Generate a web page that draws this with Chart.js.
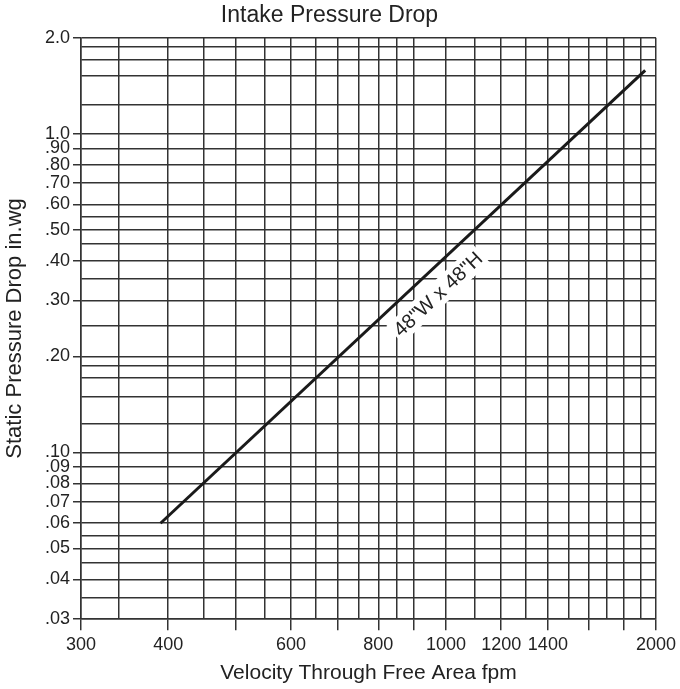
<!DOCTYPE html>
<html>
<head>
<meta charset="utf-8">
<script src="https://cdn.jsdelivr.net/npm/chart.js@4.4.1/dist/chart.umd.min.js"></script>
<style>
  body { margin: 0; background: #fff; }
  #wrap { width: 680px; height: 689px; }
</style>
</head>
<body>
<div id="wrap"><canvas id="pressureChart"></canvas></div>
<script>
// velocity (fpm) and pressure drop (in.wg)
const velocity = [390, 1930];
const pressureDrop = [0.06, 1.58];
const curveLabel = '48"W x 48"H';
const curveLabelAt = 927; // fpm, where the label sits along the curve

// grid of the log-log paper
const xGrid = [300, 340, 400, 450, 500, 550, 600, 650, 700, 750, 800, 850, 900,
    1000, 1100, 1200, 1300, 1400, 1500, 1600, 1700, 1800, 1900, 2000];
const xTickMarks = [300, 400, 500, 600, 700, 800, 900, 1000, 1200, 1400, 1600, 1800, 2000];
const xTickLabels = ['300', '400', '600', '800', '1000', '1200', '1400', '2000'];

const yGrid = [0.03, 0.035, 0.04, 0.045, 0.05, 0.055, 0.06, 0.07, 0.08, 0.09, 0.10,
    0.123, 0.15, 0.172, 0.187, 0.20, 0.25, 0.30, 0.35, 0.40, 0.45, 0.50, 0.55,
    0.60, 0.70, 0.80, 0.90, 1.0, 1.23, 1.52, 1.71, 1.87, 2.0];
const yTickLabels = ['.03', '.04', '.05', '.06', '.07', '.08', '.09', '.10', '.20', '.30',
    '.40', '.50', '.60', '.70', '.80', '.90', '1.0', '2.0'];

const same = (a, b) => Math.abs(a - b) < 1e-9;
const xLabelFor = v => xTickLabels.find(l => same(Number(l), v)) || '';
const yLabelFor = v => yTickLabels.find(l => same(Number(l), v)) || '';

const gridColor = '#333';
const inkColor = '#222';

Chart.defaults.font.family = '"Liberation Sans", Arial, sans-serif';
Chart.defaults.color = inkColor;

// label written along the curve, on a white patch
const curveLabelPlugin = {
    id: 'curveLabel',
    afterDatasetsDraw(chart) {
        const pts = chart.getDatasetMeta(0).data;
        const p0 = pts[0], p1 = pts[pts.length - 1];
        const px = chart.scales.x.getPixelForValue(curveLabelAt);
        const t = (px - p0.x) / (p1.x - p0.x);
        const py = p0.y + t * (p1.y - p0.y);
        const ang = Math.atan2(p1.y - p0.y, p1.x - p0.x);
        const ctx = chart.ctx;
        ctx.save();
        ctx.translate(px, py);
        ctx.rotate(ang);
        ctx.translate(0, 22);
        ctx.font = '20px "Liberation Sans", Arial, sans-serif';
        const w = ctx.measureText(curveLabel).width;
        ctx.fillStyle = '#fff';
        ctx.fillRect(-w / 2 - 3, -12, w + 6, 24);
        ctx.fillStyle = inkColor;
        ctx.textAlign = 'center';
        ctx.textBaseline = 'middle';
        ctx.fillText(curveLabel, 0, 1);
        ctx.restore();
    }
};

const ctx = document.getElementById('pressureChart').getContext('2d');
const pressureChart = new Chart(ctx, {
    type: 'line',
    data: {
        datasets: [{
            label: curveLabel,
            data: velocity.map((v, i) => ({ x: v, y: pressureDrop[i] })),
            borderColor: '#1a1a1a',
            borderWidth: 3,
            pointRadius: 0,
            fill: false,
            tension: 0
        }]
    },
    options: {
        responsive: true,
        maintainAspectRatio: false,
        animation: false,
        layout: { padding: { left: 0, right: 21, top: 0, bottom: 3 } },
        plugins: {
            legend: { display: false },
            tooltip: { enabled: false },
            title: {
                display: true,
                text: 'Intake Pressure Drop',
                color: inkColor,
                font: { size: 23, weight: 'normal' },
                padding: { top: 1.5, bottom: 8.6 }
            }
        },
        scales: {
            x: {
                type: 'logarithmic',
                min: 300,
                max: 2000,
                afterBuildTicks: axis => { axis.ticks = xGrid.map(v => ({ value: v })); },
                ticks: {
                    autoSkip: false,
                    maxRotation: 0,
                    padding: 4,
                    font: { size: 18 },
                    color: inkColor,
                    callback: v => xLabelFor(v)
                },
                grid: {
                    color: gridColor,
                    lineWidth: 1.5,
                    tickLength: 11,
                    tickColor: c => xTickMarks.some(v => same(v, c.tick.value)) ? gridColor : 'rgba(0,0,0,0)'
                },
                border: { color: gridColor, width: 1.5 },
                title: {
                    display: true,
                    text: 'Velocity Through Free Area fpm',
                    color: inkColor,
                    font: { size: 21 },
                    padding: { top: 1, bottom: 0 }
                }
            },
            y: {
                type: 'logarithmic',
                min: 0.03,
                max: 2.0,
                afterBuildTicks: axis => { axis.ticks = yGrid.map(v => ({ value: v })); },
                ticks: {
                    autoSkip: false,
                    padding: 3,
                    font: { size: 18 },
                    color: inkColor,
                    callback: v => yLabelFor(v)
                },
                grid: {
                    color: gridColor,
                    lineWidth: 1.5,
                    tickLength: 8,
                    tickColor: c => yTickLabels.some(l => same(Number(l), c.tick.value)) ? gridColor : 'rgba(0,0,0,0)'
                },
                border: { color: gridColor, width: 1.5 },
                title: {
                    display: true,
                    text: 'Static Pressure Drop in.wg',
                    color: inkColor,
                    font: { size: 22 },
                    padding: { top: 2, bottom: 13.6 }
                }
            }
        }
    },
    plugins: [curveLabelPlugin]
});
</script>
</body>
</html>
